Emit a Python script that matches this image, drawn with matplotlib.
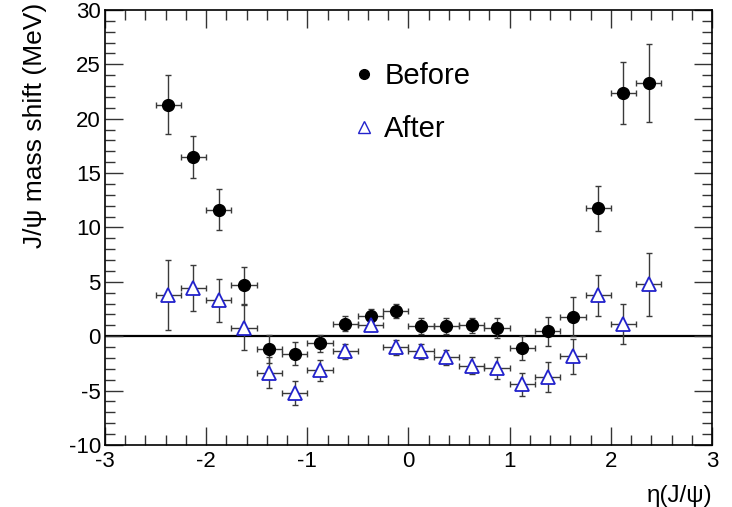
import matplotlib
matplotlib.use("Agg")
import matplotlib.pyplot as plt
from matplotlib.lines import Line2D
from matplotlib.ticker import MultipleLocator
import numpy as np

plt.rcParams['font.family'] = ['Liberation Sans', 'DejaVu Sans']
plt.rcParams['axes.unicode_minus'] = False

# eta bin centres (bin width 0.25)
eta = [-2.375, -2.125, -1.875, -1.625, -1.375, -1.125, -0.875, -0.625, -0.375, -0.125,
       0.125, 0.375, 0.625, 0.875, 1.125, 1.375, 1.625, 1.875, 2.125, 2.375]
eta_err = 0.125

# mass shift before correction (MeV)
before = [21.3, 16.5, 11.65, 4.7, -1.2, -1.6, -0.65, 1.15, 1.9, 2.35,
          0.95, 0.95, 1.0, 0.75, -1.1, 0.45, 1.8, 11.75, 22.4, 23.3]
before_err = [2.7, 1.95, 1.9, 1.7, 1.3, 1.05, 0.8, 0.7, 0.6, 0.65,
              0.75, 0.7, 0.7, 0.9, 1.1, 1.35, 1.8, 2.1, 2.85, 3.6]

# mass shift after correction (MeV)
after = [3.8, 4.45, 3.3, 0.8, -3.35, -5.25, -3.15, -1.4, 1.05, -1.0,
         -1.4, -1.95, -2.7, -2.95, -4.4, -3.75, -1.85, 3.75, 1.15, 4.8]
after_err = [3.2, 2.1, 2.0, 2.1, 1.45, 1.1, 0.95, 0.72, 0.55, 0.7,
             0.72, 0.73, 0.77, 1.0, 1.05, 1.35, 1.6, 1.9, 1.85, 2.9]

fig = plt.figure(figsize=(7.32, 5.07), dpi=100)
ax = fig.add_axes([0.1434, 0.1223, 0.8293, 0.858])

ax.axhline(0, color='black', lw=1.6, zorder=1)

ebar = dict(fmt='none', ecolor='#3a3a3a', elinewidth=1.0, capsize=2, capthick=1.0, zorder=2)
ax.errorbar(eta, before, xerr=eta_err, yerr=before_err, **ebar)
ax.errorbar(eta, after, xerr=eta_err, yerr=after_err, **ebar)
ax.plot(eta, before, 'o', color='black', ms=8.5, ls='none', zorder=3)
ax.plot(eta, after, '^', mfc='white', mec='#2222cc', mew=1.3, ms=10, ls='none', zorder=3)

ax.set_xlim(-3, 3)
ax.set_ylim(-10, 30)
ax.xaxis.set_major_locator(MultipleLocator(1))
ax.xaxis.set_minor_locator(MultipleLocator(0.2))
ax.yaxis.set_major_locator(MultipleLocator(5))
ax.yaxis.set_minor_locator(MultipleLocator(1))
ax.tick_params(which='both', direction='in', top=True, right=True, labelsize=16, width=1, color='#333333')
ax.tick_params(which='major', length=13)
ax.tick_params(which='minor', length=7)
ax.tick_params(axis='x', pad=4)
ax.tick_params(axis='y', pad=3)
for s in ax.spines.values():
    s.set_linewidth(1.2)

ax.set_ylabel('J/ψ mass shift (MeV)', fontsize=19, loc='top')
ax.yaxis.set_label_coords(-0.095, 1.017)
ax.set_xlabel('η(J/ψ)', fontsize=17.5, loc='right')
ax.xaxis.set_label_coords(1.0, -0.093)

handles = [Line2D([], [], marker='o', color='black', ms=7, ls='none'),
           Line2D([], [], marker='^', mfc='white', mec='#2222cc', mew=1.0, ms=8, ls='none')]
ax.legend(handles, ['Before', 'After'], loc='center left', bbox_to_anchor=(0.364, 0.787),
          frameon=False, fontsize=21, labelspacing=0.85, handletextpad=0.3, handlelength=0.8)

fig.savefig('out.png', dpi=100)
